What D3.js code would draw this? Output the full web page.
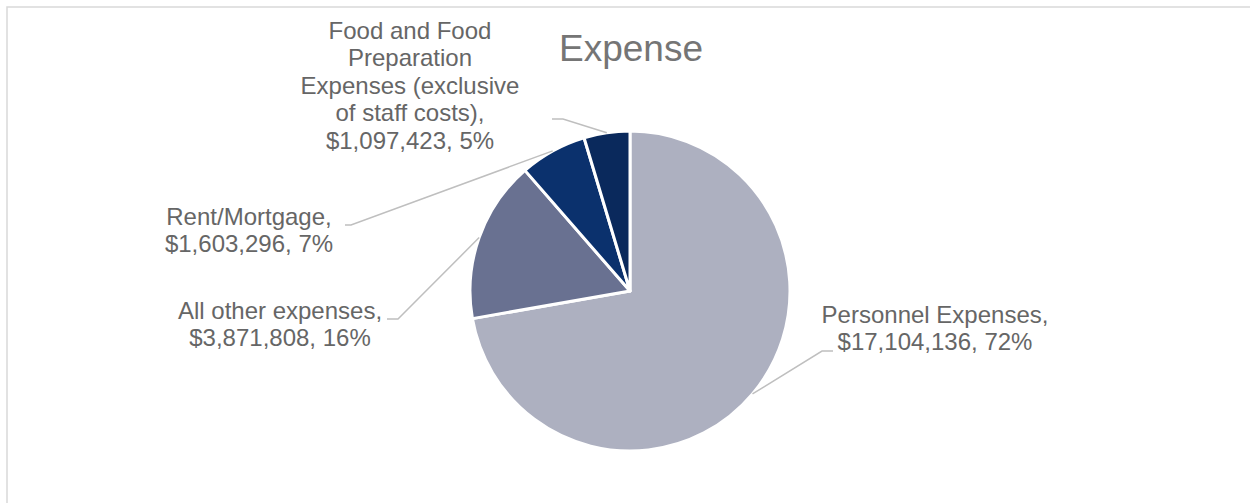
<!DOCTYPE html>
<html>
<head>
<meta charset="utf-8">
<script src="https://cdn.jsdelivr.net/npm/d3@7"></script>
<style>
  html, body { margin: 0; padding: 0; background: #fff; }
  svg { display: block; }
  text { font-family: "Liberation Sans", Arial, sans-serif; }
</style>
</head>
<body>
<svg id="chart" width="1250" height="503"></svg>
<script>
// ---- data ----
const categories = [
  "Personnel Expenses",
  "All other expenses",
  "Rent/Mortgage",
  "Food and Food Preparation Expenses (exclusive of staff costs)"
];
const values = [17104136, 3871808, 1603296, 1097423];
const percentLabels = ["72%", "16%", "7%", "5%"];
const colors = ["#adb0c0", "#697191", "#0b316d", "#0a295c"];
const title = "Expense";

// label text lines (as wrapped in the reference)
const labelLines = [
  ["Personnel Expenses,", "$17,104,136, 72%"],
  ["All other expenses,", "$3,871,808, 16%"],
  ["Rent/Mortgage,", "$1,603,296, 7%"],
  ["Food and Food", "Preparation", "Expenses (exclusive", "of staff costs),", "$1,097,423, 5%"]
];

// ---- layout ----
const W = 1250, H = 503;
const cx = 630, cy = 291, R = 160;
const labelLayout = [
  { x: 935, y: 323, elbow: [[833, 351], [822, 351]] },
  { x: 280, y: 319, elbow: [[387, 319], [398, 319]] },
  { x: 249, y: 225, elbow: [[345, 225], [351, 225]] },
  { x: 410, y: 39,  elbow: [[552, 119], [563, 119]] }
];
const lineH = 27.4;

const svg = d3.select("#chart");

// chart frame
svg.append("rect")
  .attr("x", 7).attr("y", 7)
  .attr("width", W + 10).attr("height", H + 10)
  .attr("fill", "#fff")
  .attr("stroke", "#d9d9d9").attr("stroke-width", 1.5);

// title
svg.append("text")
  .attr("x", cx + 1).attr("y", 61)
  .attr("text-anchor", "middle")
  .attr("font-size", 37)
  .attr("fill", "#757575")
  .text(title);

const pie = d3.pie().sort(null).value(d => d)(values);
const arc = d3.arc().innerRadius(0).outerRadius(R);
const edge = d3.arc().innerRadius(R).outerRadius(R);

const g = svg.append("g").attr("transform", `translate(${cx},${cy})`);

g.selectAll("path.slice")
  .data(pie)
  .join("path")
  .attr("class", "slice")
  .attr("d", arc)
  .attr("fill", (d, i) => colors[i])
  .attr("stroke", "#fff")
  .attr("stroke-width", 3)
  .attr("stroke-linejoin", "round");

// leader lines
const line = d3.line();
pie.forEach((d, i) => {
  const c = edge.centroid(d);
  const pts = labelLayout[i].elbow.concat([[cx + c[0], cy + c[1]]]);
  svg.append("path")
    .attr("d", line(pts))
    .attr("fill", "none")
    .attr("stroke", "#bfbfbf")
    .attr("stroke-width", 1.5);
});

// labels
labelLines.forEach((lines, i) => {
  const L = labelLayout[i];
  const t = svg.append("text")
    .attr("text-anchor", "middle")
    .attr("font-size", 24)
    .attr("fill", "#666666");
  lines.forEach((s, k) => {
    t.append("tspan").attr("x", L.x).attr("y", L.y + k * lineH).text(s);
  });
});
</script>
</body>
</html>
